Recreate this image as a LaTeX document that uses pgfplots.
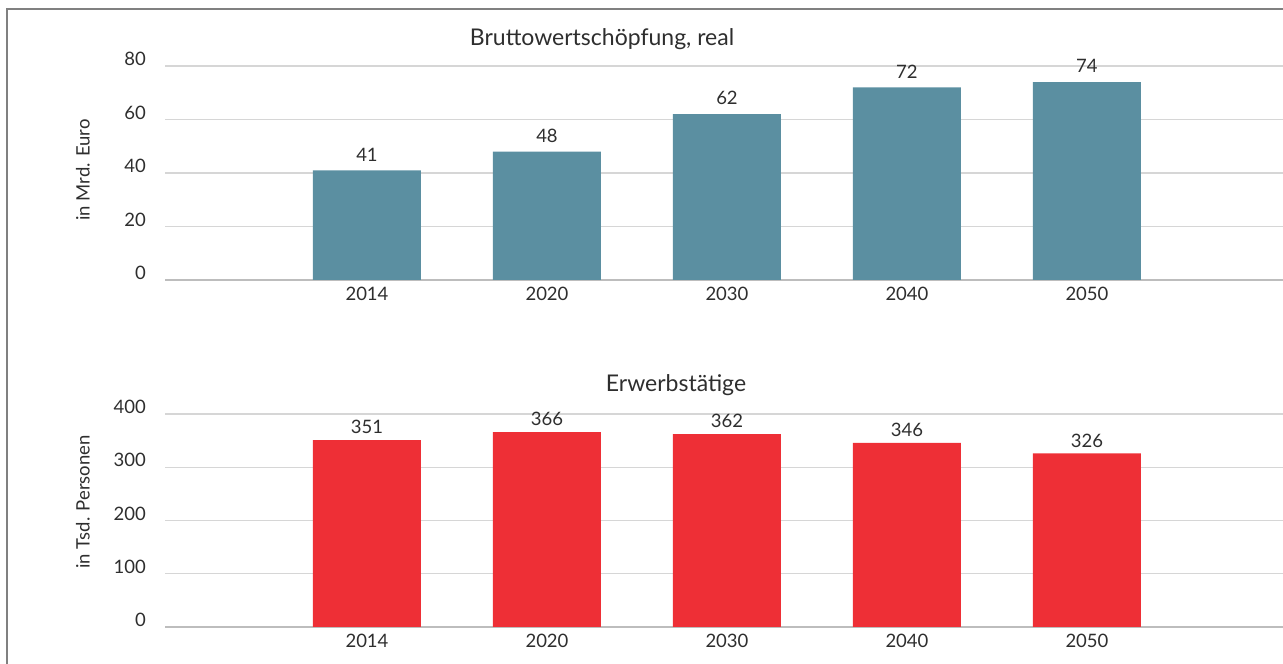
\documentclass[border=0pt]{standalone}
\usepackage{fontspec}
\setmainfont{Lato}
\usepackage{pgfplots}
\pgfplotsset{compat=1.18}
\definecolor{bartealc}{HTML}{5B8FA1}
\definecolor{barredc}{HTML}{EE2F36}
\definecolor{txtc}{HTML}{2E2E2E}
\definecolor{gridc}{HTML}{D6D6D6}
\definecolor{zeroc}{HTML}{BDBDBD}
\definecolor{framec}{HTML}{808080}
\pgfplotsset{
  /pgf/number format/assume math mode=true,
  common/.style={
    scale only axis,
    width=1118pt,
    xmin=-1.1222, xmax=5.0889, ymin=0,
    axis line style={draw=none},
    major tick length=0pt,
    ymajorgrids,
    grid style={gridc, line width=1.2pt},
    xtick={0,1,2,3,4},
    xticklabels={2014,2020,2030,2040,2050},
    tick label style={font=\fontsize{18.5}{20}\selectfont, text=txtc, inner sep=0pt},
    yticklabel style={anchor=east, xshift=-19pt, yshift=7pt},
    xticklabel style={anchor=north, yshift=-7pt},
    nodes near coords,
    nodes near coords style={font=\fontsize{18.5}{20}\selectfont, text=txtc, anchor=south, inner sep=0pt},
    clip=false,
  }
}
\begin{document}
\begin{tikzpicture}
\path[use as bounding box] (0pt,0pt) rectangle (1283pt,664pt);
\draw[framec, line width=1.5pt] (7pt,0pt) -- (7pt,655pt) -- (1283pt,655pt);

\begin{axis}[common, at={(165pt,384pt)}, anchor=south west, height=214pt,
  ymax=80, ytick={0,20,40,60,80},
  nodes near coords style={yshift=9pt}]
\draw[zeroc, line width=1.8pt] (axis cs:-1.1222,0) -- (axis cs:5.0889,0);
\addplot[ybar, bar width=108pt, fill=bartealc, draw=none] coordinates {(0,41) (1,48) (2,62) (3,72) (4,74)};
\end{axis}

\begin{axis}[common, at={(165pt,37pt)}, anchor=south west, height=213pt,
  ymax=400, ytick={0,100,200,300,400},
  nodes near coords style={yshift=6pt}]
\draw[zeroc, line width=1.8pt] (axis cs:-1.1222,0) -- (axis cs:5.0889,0);
\addplot[ybar, bar width=108pt, fill=barredc, draw=none] coordinates {(0,351) (1,366) (2,362) (3,346) (4,326)};
\end{axis}

\node[font=\fontsize{23}{26}\selectfont, text=txtc, anchor=base] at (602pt,618pt) {Bruttowertschöpfung, real};
\node[font=\fontsize{23}{26}\selectfont, text=txtc, anchor=base] at (676pt,272pt) {Erwerbstätige};
\node[rotate=90, font=\fontsize{18.5}{20}\selectfont, text=txtc, anchor=center] at (83pt,494pt) {in Mrd. Euro};
\node[rotate=90, font=\fontsize{18.5}{20}\selectfont, text=txtc, anchor=center] at (83pt,162pt) {in Tsd. Personen};
\end{tikzpicture}
\end{document}
